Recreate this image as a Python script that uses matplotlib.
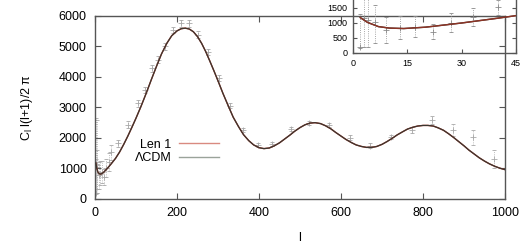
import numpy as np
import matplotlib.pyplot as plt

plt.rcParams['font.family'] = ['Liberation Sans', 'DejaVu Sans']

# model curves (l, C_l l(l+1)/2pi)
curve_l = [2, 4, 7, 10, 14, 20, 30, 40, 50, 60, 70, 80, 90, 100, 112, 125, 137,
           150, 162, 175, 187, 200, 210, 220, 230, 240, 250, 260, 270, 280, 290,
           300, 312, 325, 337, 350, 362, 375, 387, 400, 412, 425, 437, 450, 462,
           475, 487, 500, 512, 525, 537, 550, 562, 575, 587, 600, 612, 625, 637,
           650, 662, 675, 687, 700, 712, 725, 737, 750, 762, 775, 787, 800, 812,
           825, 837, 850, 862, 875, 887, 900, 912, 925, 937, 950, 962, 975, 987,
           1000]
len1_cl = [1180, 1020, 880, 830, 815, 860, 1000, 1160, 1330, 1540, 1790, 2060,
           2350, 2650, 3030, 3470, 3900, 4350, 4750, 5100, 5350, 5510, 5580, 5600,
           5570, 5480, 5320, 5100, 4830, 4520, 4200, 3870, 3460, 3050, 2680, 2370,
           2110, 1910, 1770, 1680, 1650, 1670, 1740, 1840, 1960, 2090, 2220, 2340,
           2430, 2490, 2500, 2470, 2400, 2300, 2180, 2060, 1950, 1850, 1770, 1720,
           1690, 1690, 1720, 1790, 1880, 1990, 2100, 2200, 2290, 2350, 2390, 2410,
           2410, 2390, 2330, 2250, 2140, 2010, 1880, 1740, 1600, 1470, 1350, 1240,
           1150, 1070, 1010, 960]
lcdm_cl = list(len1_cl)

# binned measurements
data_l = [2, 3, 4, 6, 9, 13, 17, 22, 27, 33, 40, 55, 81, 106, 122, 140, 154, 171,
          189, 209, 230, 250, 275, 302, 329, 360, 397, 431, 477, 522, 571, 622,
          671, 722, 772, 821, 872, 921, 972]
data_cl = [210, 1150, 1100, 1040, 770, 820, 880, 710, 1010, 1210, 1540, 1820,
           2430, 3140, 3570, 4280, 4560, 5000, 5540, 5760, 5760, 5380, 4830, 3960,
           3050, 2260, 1770, 1800, 2300, 2500, 2430, 2010, 1750, 2030, 2260, 2590,
           2260, 2020, 1300]
err_lo = [60, 950, 900, 710, 440, 350, 350, 250, 300, 310, 270, 120, 120, 110,
          110, 110, 110, 110, 110, 110, 110, 110, 100, 90, 80, 70, 60, 60, 60,
          60, 70, 70, 70, 80, 90, 130, 200, 250, 300]
err_hi = [1100, 1500, 1500, 560, 430, 410, 350, 260, 310, 280, 230, 120, 120, 110,
          110, 110, 110, 110, 110, 110, 110, 110, 100, 90, 80, 70, 60, 60, 60,
          60, 70, 70, 70, 80, 90, 130, 200, 250, 300]

frame_col = '#555555'
red = '#b83a2a'
dark = '#3a3630'

fig = plt.figure(figsize=(5.25, 2.45), dpi=100)
ax = fig.add_axes([0.181, 0.188, 0.781, 0.747])

eb = ax.errorbar(data_l, data_cl, yerr=[err_lo, err_hi], fmt='+', color='#a8a8a8',
                 ms=4, mew=0.6, elinewidth=0.6, capsize=1.5, ls='none', zorder=1)
eb[2][0].set_linestyle(':')
ax.plot(curve_l, len1_cl, color=red, lw=1.0, zorder=2)
ax.plot(curve_l, lcdm_cl, color=dark, lw=0.9, zorder=3)

ax.set_xlim(0, 1000)
ax.set_ylim(0, 6000)
ax.set_xticks([0, 200, 400, 600, 800, 1000])
ax.set_yticks([0, 1000, 2000, 3000, 4000, 5000, 6000])
ax.tick_params(direction='in', top=True, right=True, length=4, width=0.8,
               color=frame_col, labelsize=9, pad=6)
for s in ax.spines.values():
    s.set_color(frame_col)
    s.set_linewidth(1.0)
ax.set_xlabel('l', fontsize=9, labelpad=9)
ax.set_ylabel(r'C$_\mathregular{l}$ l(l+1)/2 π', fontsize=9, labelpad=17)

h1, = ax.plot([], [], color='#d98a80', lw=1.0)
h2, = ax.plot([], [], color='#9aa39a', lw=1.0)
ax.legend([h1, h2], ['Len 1', 'ΛCDM'], loc='center', bbox_to_anchor=(0.2, 0.26),
          frameon=False, markerfirst=False, fontsize=9, handlelength=3.2,
          handletextpad=0.6, labelspacing=0.1)

# inset, low l
ins = fig.add_axes([0.6724, 0.7837, 0.3106, 0.245])
ins.patch.set_alpha(0)
eb2 = ins.errorbar(data_l, data_cl, yerr=[err_lo, err_hi], fmt='+', color='#8a8a8a',
                   ms=4, mew=0.6, elinewidth=0.6, capsize=1.5, ls='none', zorder=1)
eb2[2][0].set_linestyle(':')
ins.plot(curve_l, lcdm_cl, color=dark, lw=1.0, zorder=2)
ins.plot(curve_l, len1_cl, color='#8e3325', lw=1.0, zorder=3)
ins.set_xlim(0, 45)
ins.set_ylim(0, 2000)
ins.set_xticks([0, 15, 30, 45])
ins.set_yticks([0, 500, 1000, 1500])
ins.tick_params(direction='in', top=True, right=True, length=3, width=0.8,
                color=frame_col, labelsize=6.5, pad=4)
for s in ins.spines.values():
    s.set_color(frame_col)
    s.set_linewidth(1.0)

fig.savefig('out.png', dpi=100)
